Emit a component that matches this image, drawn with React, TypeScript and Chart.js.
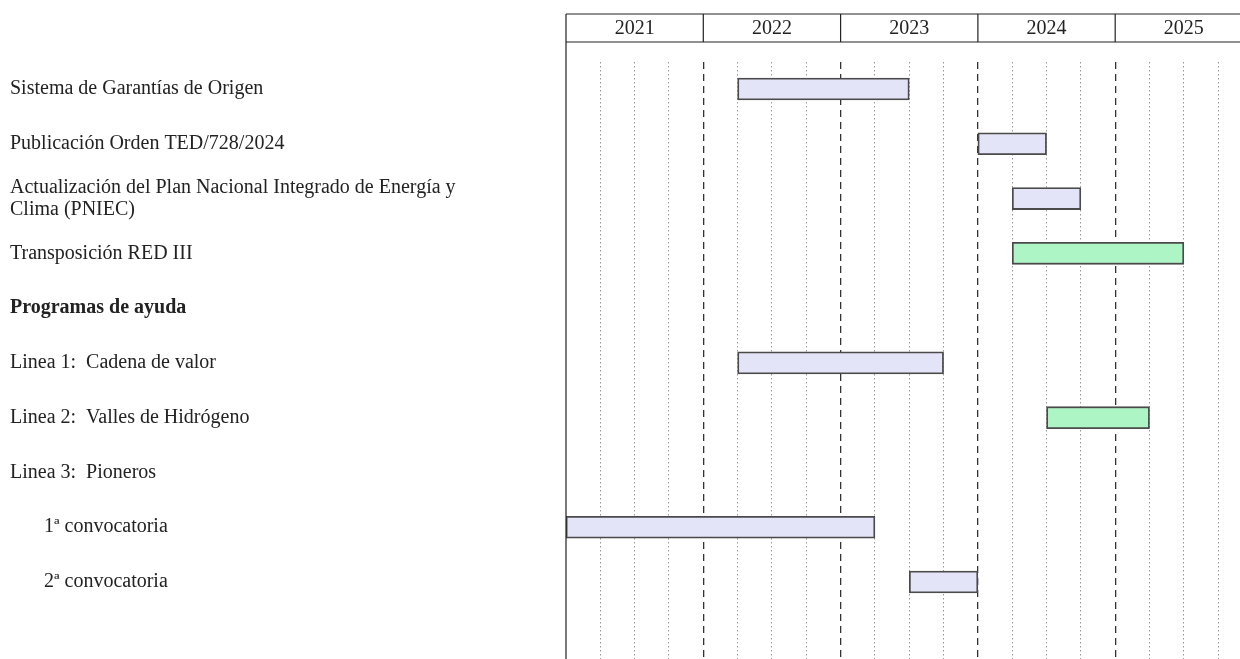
import React, { useEffect, useRef } from "react";
import { Chart, registerables } from "chart.js";

Chart.register(...registerables);

// ---- data ----
const TASKS: (string | string[])[] = [
  "Sistema de Garantías de Origen",
  "Publicación Orden TED/728/2024",
  ["Actualización del Plan Nacional Integrado de Energía y", "Clima (PNIEC)"],
  "Transposición RED III",
  "Programas de ayuda",
  "Linea 1:  Cadena de valor",
  "Linea 2:  Valles de Hidrógeno",
  "Linea 3:  Pioneros",
  "\u2003\u2002\u20091ª convocatoria",
  "\u2003\u2002\u20092ª convocatoria",
];
const HEADING_ROWS = [4];
const START: (number | null)[] = [2022.25, 2024.0, 2024.25, 2024.25, null, 2022.25, 2024.5, null, 2021.0, 2023.5];
const END: (number | null)[] = [2023.5, 2024.5, 2024.75, 2025.5, null, 2023.75, 2025.25, null, 2023.25, 2024.0];
const PHASE: (string | null)[] = ["a", "a", "a", "b", null, "a", "b", null, "a", "a"];
const YEARS = [2021, 2022, 2023, 2024, 2025];
const QUARTERS = [0.25, 0.5, 0.75, 1];

const FILL: Record<string, string> = { a: "#e4e4f9", b: "#aef5c6" };
const FONT = '"Liberation Serif", "DejaVu Serif", serif';

const headerPlugin = {
  id: "yearHeader",
  afterDraw(chart: any) {
    const { ctx, chartArea, scales } = chart;
    const x = scales.x;
    const top = 14;
    const bottom = 42;
    const left = chartArea.left;
    ctx.save();
    ctx.strokeStyle = "#222";
    ctx.lineWidth = 1.2;
    ctx.setLineDash([]);
    ctx.beginPath();
    ctx.moveTo(left, top);
    ctx.lineTo(chart.width, top);
    ctx.moveTo(left, bottom);
    ctx.lineTo(chart.width, bottom);
    ctx.moveTo(left, top);
    ctx.lineTo(left, chart.height);
    YEARS.forEach((yr) => {
      const px = x.getPixelForValue(yr + 1);
      ctx.moveTo(px, top);
      ctx.lineTo(px, bottom);
    });
    ctx.stroke();
    ctx.font = `20px ${FONT}`;
    ctx.textAlign = "center";
    ctx.textBaseline = "middle";
    ctx.fillStyle = "#222";
    YEARS.forEach((yr) => {
      const cx = (x.getPixelForValue(yr) + x.getPixelForValue(yr + 1)) / 2;
      ctx.fillText(String(yr), cx, (top + bottom) / 2 + 1);
    });
    ctx.restore();
  },
};

export default function App() {
  const ref = useRef<HTMLCanvasElement>(null);
  useEffect(() => {
    document.body.style.margin = "0";
    const rows = TASKS.map((_, i) => i).filter((i) => START[i] !== null);
    const data = rows.map((i) => ({ x: [START[i], END[i]], y: i, phase: PHASE[i] }));
    const xTicks: number[] = [];
    YEARS.forEach((yr) => QUARTERS.forEach((q) => xTicks.push(yr + q)));
    const chart = new Chart(ref.current as HTMLCanvasElement, {
      type: "bar",
      data: {
        datasets: [
          {
            data: data as any,
            backgroundColor: (c: any) => FILL[c.raw?.phase ?? "a"],
            borderColor: "#4a4a4a",
            borderWidth: 1.8,
            borderSkipped: false,
            barThickness: 22,
          },
        ],
      },
      plugins: [headerPlugin],
      options: {
        indexAxis: "y",
        animation: false,
        responsive: false,
        maintainAspectRatio: false,
        layout: { padding: { top: 61.6, left: 10, right: 0, bottom: 0 } },
        plugins: { legend: { display: false }, tooltip: { enabled: false } },
        scales: {
          x: {
            type: "linear",
            position: "top",
            min: 2021,
            max: 2025.909,
            offset: false,
            afterBuildTicks: (s: any) => {
              s.ticks = xTicks.filter((v) => v <= 2025.909).map((v) => ({ value: v }));
            },
            afterFit: (s: any) => {
              s.height = 0;
              s.paddingLeft = 0;
              s.paddingRight = 0;
            },
            ticks: { display: false },
            grid: {
              drawTicks: false,
              offset: false,
              color: (c: any) => (c.tick && Number.isInteger(c.tick.value) ? "#333" : "#999"),
              lineWidth: (c: any) => (c.tick && Number.isInteger(c.tick.value) ? 1.3 : 1),
            },
            border: {
              display: false,
              dash: (c: any) =>
                c.tick ? (Number.isInteger(c.tick.value) ? [7, 5] : [1.5, 2.5]) : [],
            } as any,
          },
          y: {
            type: "linear",
            reverse: true,
            min: -0.5,
            max: 10.405,
            offset: false,
            afterBuildTicks: (s: any) => {
              s.ticks = TASKS.map((_, i) => ({ value: i }));
            },
            afterFit: (s: any) => {
              s.width = 556;
              s.paddingTop = 0;
              s.paddingBottom = 0;
            },
            grid: { display: false, offset: false },
            border: { display: false },
            ticks: {
              autoSkip: false,
              crossAlign: "far",
              padding: 0,
              color: "#222",
              callback: (v: any) => TASKS[Number(v)],
              font: (c: any) => ({
                family: FONT,
                size: 20,
                lineHeight: 1.1,
                weight: c.tick && HEADING_ROWS.includes(c.tick.value) ? "bold" : "normal",
              }),
            },
          },
        },
      },
    });
    return () => chart.destroy();
  }, []);
  return (
    <div style={{ width: 1240, height: 659 }}>
      <canvas ref={ref} width={1240} height={659} style={{ display: "block" }} />
    </div>
  );
}
